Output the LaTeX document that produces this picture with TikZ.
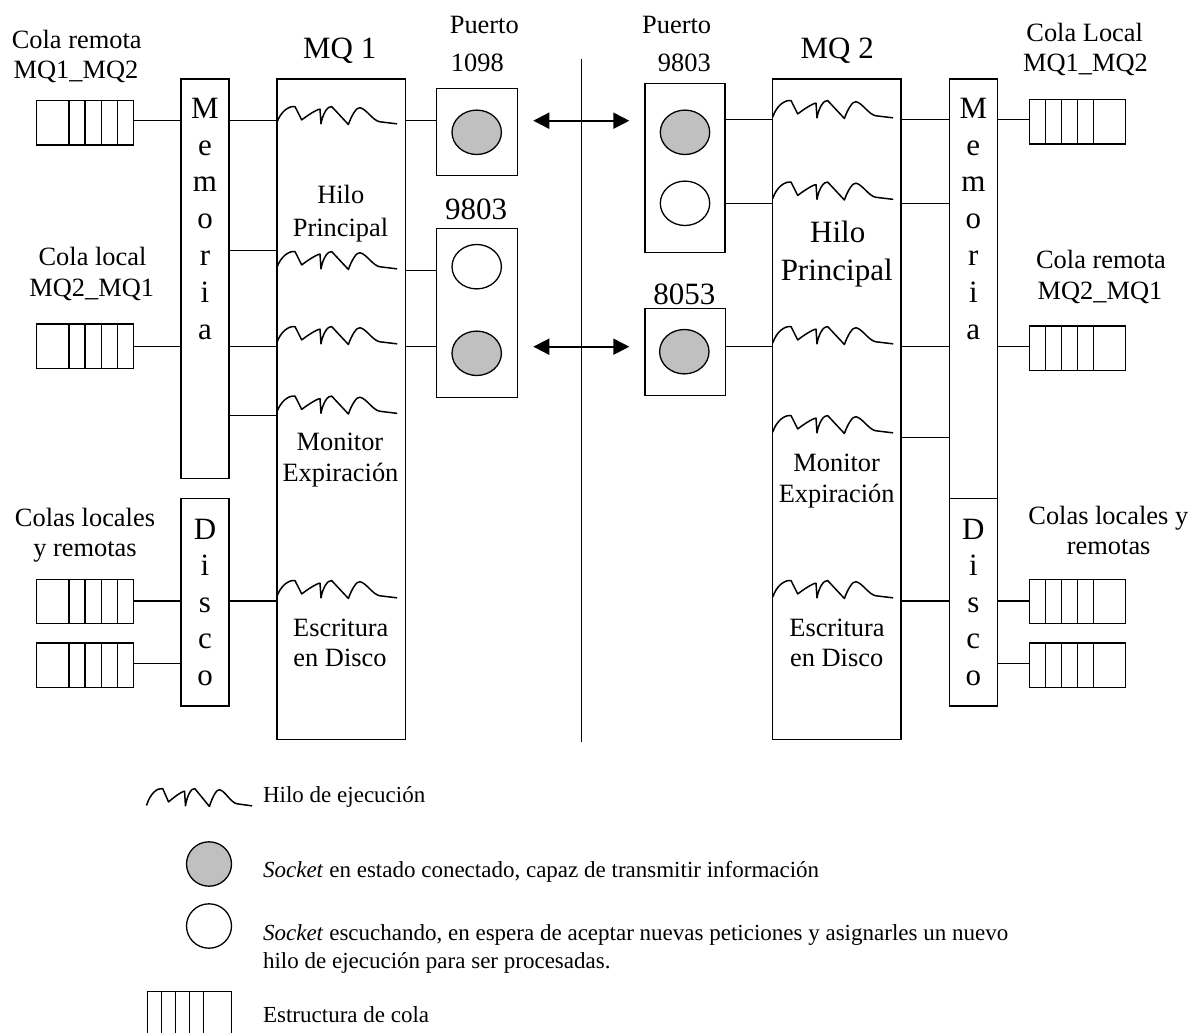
\documentclass[tikz,border=0pt]{standalone}
\usepackage{fontspec}
\setmainfont{Liberation Serif}
\usetikzlibrary{arrows.meta,shapes.geometric}
\definecolor{sockgray}{RGB}{192,192,192}
\newcommand\qdivL[1]{\foreach \d in {16.15,24.15,32.3,40.3}{\draw[line width=0.65pt] ([xshift=\d pt]#1.north west) -- ([xshift=\d pt]#1.south west);}}
\newcommand\qdivR[1]{\foreach \d in {8.2,16.2,24.2,32}{\draw[line width=0.65pt] ([xshift=\d pt]#1.north west) -- ([xshift=\d pt]#1.south west);}}
\begin{document}
\begin{tikzpicture}[x=0.5pt,y=-0.5pt,
  lw/.style={line width=0.65pt},
  rbox/.style={draw,lw,inner sep=0pt,outer sep=0pt},
  qbox/.style={rbox,minimum width=48.3pt,minimum height=22.15pt},
  sm/.style={font=\fontsize{13.2pt}{15pt}\selectfont,inner sep=0pt,anchor=base},
  lg/.style={font=\fontsize{15.5pt}{18pt}\selectfont,inner sep=0pt,anchor=base},
  lgd/.style={font=\fontsize{11.5pt}{14pt}\selectfont,inner sep=0pt,anchor=base west},
  sockon/.style={ellipse,draw,lw,fill=sockgray,inner sep=0pt,minimum width=24.7pt,minimum height=22.2pt},
  sockoff/.style={sockon,fill=white},
  conn/.style={lw},
  biarrow/.style={line width=1pt,{Triangle[length=8pt,width=8pt]}-{Triangle[length=8pt,width=8pt]}},
  thread/.pic={\draw[line width=0.75pt,line join=round,line cap=round] (0,0) .. controls (4,-11.5) and (12,-17.3) .. (18.3,-16.4) -- (25,-3.1) .. controls (30,-6.9) and (40,-13.8) .. (43.3,-13.8) -- (44.3,0.8) .. controls (46,-9.2) and (51,-17.3) .. (55,-16.4) -- (71.7,1.5) .. controls (75,-8) and (80,-16.1) .. (83.3,-15.3) .. controls (90,-13.8) and (96,-2.3) .. (103.3,-1.2) -- (120,0.8);}
]
\useasboundingbox (0,0) rectangle (1192,1032);

% ---------- boxes ----------
\node[rbox,minimum width=24pt,minimum height=199.65pt] (meml) at (205,278.65) {};
\node[rbox,minimum width=24pt,minimum height=103.85pt] (diskl) at (205,602.15) {};
\node[rbox,minimum width=64.15pt,minimum height=330.15pt] (mq1) at (341,409.15) {};
\node[rbox,minimum width=64.15pt,minimum height=330.15pt] (mq2) at (836.85,409.15) {};
\node[rbox,minimum width=24pt,minimum height=209.65pt] (memr) at (973.3,288.65) {};
\node[rbox,minimum width=24pt,minimum height=103.85pt] (diskr) at (973.3,602.15) {};

% ports
\node[rbox,minimum width=40.3pt,minimum height=43.7pt] (p1) at (477,132) {};
\node[rbox,minimum width=40.3pt,minimum height=84.5pt] (p2) at (477,312.8) {};
\node[rbox,minimum width=40pt,minimum height=84.7pt] (p3) at (685,168) {};
\node[rbox,minimum width=40.15pt,minimum height=43.7pt] (p4) at (685.15,352) {};
\node[sockon] (s1) at (476.7,132.3) {};
\node[sockoff] (s2) at (476.7,266.7) {};
\node[sockon] (s3) at (476.7,353.3) {};
\node[sockon] (s4) at (685,132.3) {};
\node[sockoff] (s5) at (685,203.3) {};
\node[sockon] (s6) at (684.3,351.7) {};

% queues
\node[qbox] (ql1) at (85,122.85) {}; \qdivL{ql1}
\node[qbox] (ql2) at (85,346.15) {}; \qdivL{ql2}
\node[qbox] (ql3) at (85,601.65) {}; \qdivL{ql3}
\node[qbox] (ql4) at (85,665) {}; \qdivL{ql4}
\node[qbox] (qr1) at (1077.5,122) {}; \qdivR{qr1}
\node[qbox] (qr2) at (1077.5,348) {}; \qdivR{qr2}
\node[qbox] (qr3) at (1077.5,601.65) {}; \qdivR{qr3}
\node[qbox] (qr4) at (1077.5,665) {}; \qdivR{qr4}

% ---------- threads ----------
\pic at (276.7,123) {thread};
\pic at (276.7,268) {thread};
\pic at (276.7,343) {thread};
\pic at (276.7,412.5) {thread};
\pic at (276.7,597) {thread};
\pic at (772.7,117) {thread};
\pic at (772.7,198.5) {thread};
\pic at (772.7,343) {thread};
\pic at (772.7,432) {thread};
\pic at (772.7,597) {thread};

% ---------- connector levels ----------
\coordinate (ya) at (0,120.7);
\coordinate (yb) at (0,250.7);
\coordinate (yc) at (0,270.7);
\coordinate (yd) at (0,346.3);
\coordinate (ye) at (0,415.7);
\coordinate (yf) at (0,601);
\coordinate (yg) at (0,663.3);
\coordinate (yh) at (0,119.8);
\coordinate (yi) at (0,203.3);
\coordinate (yk) at (0,437.3);

\draw[conn] (ql1.east |- ya) -- (meml.west |- ya);
\draw[conn] (meml.east |- ya) -- (mq1.west |- ya);
\draw[conn] (mq1.east |- ya) -- (p1.west |- ya);
\draw[conn] (meml.east |- yb) -- (mq1.west |- yb);
\draw[conn] (mq1.east |- yc) -- (p2.west |- yc);
\draw[conn] (ql2.east |- yd) -- (meml.west |- yd);
\draw[conn] (meml.east |- yd) -- (mq1.west |- yd);
\draw[conn] (mq1.east |- yd) -- (p2.west |- yd);
\draw[conn] (meml.east |- ye) -- (mq1.west |- ye);
\draw[conn] (ql3.east |- yf) -- (diskl.west |- yf);
\draw[conn] (diskl.east |- yf) -- (mq1.west |- yf);
\draw[conn] (ql4.east |- yg) -- (diskl.west |- yg);

\draw[conn] (p3.east |- yh) -- (mq2.west |- yh);
\draw[conn] (mq2.east |- yh) -- (memr.west |- yh);
\draw[conn] (memr.east |- yh) -- (qr1.west |- yh);
\draw[conn] (p3.east |- yi) -- (mq2.west |- yi);
\draw[conn] (mq2.east |- yi) -- (memr.west |- yi);
\draw[conn] (p4.east |- yd) -- (mq2.west |- yd);
\draw[conn] (mq2.east |- yd) -- (memr.west |- yd);
\draw[conn] (memr.east |- yd) -- (qr2.west |- yd);
\draw[conn] (mq2.east |- yk) -- (memr.west |- yk);
\draw[conn] (mq2.east |- yf) -- (diskr.west |- yf);
\draw[conn] (diskr.east |- yf) -- (qr3.west |- yf);
\draw[conn] (diskr.east |- yg) -- (qr4.west |- yg);

% separator and arrows
\coordinate (sepT) at (581.5,59.3);
\coordinate (sepB) at (581.5,741.7);
\draw[line width=0.75pt] (sepT) -- (sepB);
\coordinate (a1l) at (533.3,120.7);
\coordinate (a1r) at (629.3,120.7);
\coordinate (a2l) at (533.3,346.7);
\coordinate (a2r) at (629.3,346.7);
\draw[biarrow] (a1l) -- (a1r);
\draw[biarrow] (a2l) -- (a2r);

% ---------- texts ----------
\node[sm] (t1) at (76.7,48.3) {Cola remota};
\node[sm] (t2) at (76,79) {MQ1\_MQ2};
\node[lg] (t3) at (339.7,58.7) {MQ 1};
\node[sm] (t4) at (340.8,203.7) {Hilo};
\node[sm] (t5) at (340.5,236.7) {Principal};
\node[sm] (t6) at (92.5,265.3) {Cola local};
\node[sm] (t7) at (91.7,296.7) {MQ2\_MQ1};
\node[sm] (t8) at (340,450.3) {Monitor};
\node[sm] (t9) at (340.5,481) {Expiración};
\node[sm] (t10) at (85,526) {Colas locales};
\node[sm] (t11) at (85,556) {y remotas};
\node[sm] (t12) at (340.8,636) {Escritura};
\node[sm] (t13) at (340,666) {en Disco};

\node[sm] (t14) at (484.3,34) {Puerto};
\node[sm] (t15) at (477.3,72) {1098};
\node[lg] (t16) at (476,219.3) {9803};
\node[sm] (t17) at (676.7,34) {Puerto};
\node[sm] (t18) at (684.3,72) {9803};
\node[lg] (t19) at (684.3,304.3) {8053};

\node[lg] (t20) at (837.2,58.7) {MQ 2};
\node[sm] (t21) at (1084.7,42) {Cola Local};
\node[sm] (t22) at (1085.5,72) {MQ1\_MQ2};
\node[lg] (t23) at (837.7,242.3) {Hilo};
\node[lg] (t24) at (836.7,280.3) {Principal};
\node[sm] (t25) at (1101,268.3) {Cola remota};
\node[sm] (t26) at (1100,299) {MQ2\_MQ1};
\node[sm] (t27) at (836.7,471.3) {Monitor};
\node[sm] (t28) at (836.7,502.7) {Expiración};
\node[sm] (t29) at (1108.3,524.3) {Colas locales y};
\node[sm] (t30) at (1108.7,554.3) {remotas};
\node[sm] (t31) at (837,636) {Escritura};
\node[sm] (t32) at (836.7,666) {en Disco};

\foreach \ch [count=\k] in {M,e,m,o,r,i,a}{
  \node[lg] (mlt\k) at (205,{118.3+36.83*(\k-1)}) {\ch};
  \node[lg] (mrt\k) at (973.3,{118.3+36.83*(\k-1)}) {\ch};
}
\foreach \ch [count=\k] in {D,i,s,c,o}{
  \node[lg] (dlt\k) at (205,{539.3+36.5*(\k-1)}) {\ch};
  \node[lg] (drt\k) at (973.3,{539.3+36.5*(\k-1)}) {\ch};
}

% ---------- legend ----------
\begin{scope}[shift={(146.7,805)},x=0.4375pt]
  \pic {thread};
\end{scope}
\node[lgd] (l1) at (262.7,802.3) {Hilo de ejecución};
\node[sockon,minimum width=22.5pt] (lc1) at (209,864) {};
\node[lgd] (l2) at (262.7,877.7) {\textit{Socket} en estado conectado, capaz de transmitir información};
\node[sockoff,minimum width=22.5pt] (lc2) at (209,926) {};
\node[lgd] (l3) at (262.7,940) {\textit{Socket} escuchando, en espera de aceptar nuevas peticiones y asignarles un nuevo};
\node[lgd] (l4) at (262.7,968.3) {hilo de ejecución para ser procesadas.};
\begin{scope}
  \clip (0,0) rectangle (1192,1032);
  \node[rbox,minimum width=42.2pt,minimum height=26pt,anchor=north west] (lq) at (147.3,991.7) {};
  \foreach \d in {7.2,14.2,21,28}{\draw[lw] ([xshift=\d pt]lq.north west) -- ([xshift=\d pt]lq.south west);}
\end{scope}
\node[lgd] (l5) at (262.7,1022.7) {Estructura de cola};
\end{tikzpicture}
\end{document}
